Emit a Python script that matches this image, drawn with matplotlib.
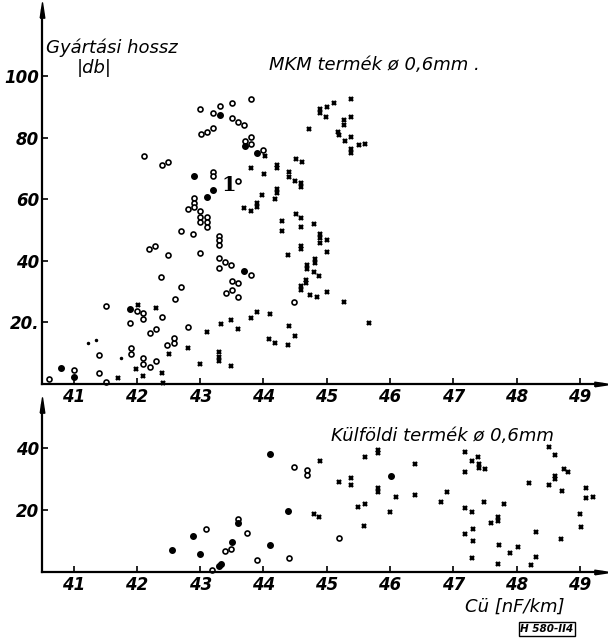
import matplotlib
matplotlib.use("Agg")
import matplotlib.pyplot as plt

plt.rcParams['font.family'] = ['DejaVu Sans']

# top panel: MKM termék (Cü [nF/km], gyártási hossz [db])
top_open_x = [40.61, 41.0, 41.40, 41.40, 41.51, 41.51, 42.0, 42.10, 42.10, 41.89, 42.40, 42.20, 42.30,
              41.91, 41.91, 42.10, 42.10, 42.20, 42.30, 42.48, 42.58, 42.58, 42.80, 42.60, 42.70, 42.38,
              42.19, 42.28, 42.49, 42.69, 42.89, 42.99, 43.30, 43.30, 43.30, 43.29, 43.29, 43.39, 43.49,
              43.50, 43.60, 43.40, 43.50, 43.59, 43.80, 44.48, 42.11, 42.40, 42.49, 42.99, 43.20, 43.31,
              43.50, 43.81, 43.01, 43.10, 43.20, 43.50, 43.60, 43.69, 43.80, 43.71, 43.81, 44.0, 43.21,
              43.21, 43.60, 42.90, 42.90, 42.90, 42.80, 42.99, 42.99, 42.99, 43.10, 43.10, 43.10]
top_open_y = [1.6, 4.5, 9.4, 3.5, 0.5, 25.4, 23.8, 22.9, 21.0, 19.7, 21.9, 16.6, 17.7,
              11.6, 9.7, 8.5, 6.5, 5.4, 7.6, 12.6, 13.4, 15.0, 18.6, 27.6, 31.6, 34.6,
              43.8, 44.9, 41.9, 49.8, 48.7, 42.6, 48.0, 46.7, 45.1, 40.8, 37.8, 39.7, 38.6,
              33.5, 32.9, 29.6, 30.5, 28.3, 35.5, 26.7, 74.0, 71.1, 71.9, 89.3, 88.1, 90.3,
              91.1, 92.4, 81.1, 81.9, 83.0, 86.3, 85.2, 84.1, 80.3, 78.9, 77.9, 76.0, 68.9,
              67.5, 65.9, 60.3, 58.9, 57.6, 56.7, 56.0, 54.3, 52.7, 54.3, 52.7, 51.1]

top_full_x = [40.80, 41.0, 41.89, 43.69, 43.31, 43.71, 43.90, 42.90, 43.21, 43.11]
top_full_y = [5.1, 2.4, 24.4, 36.6, 87.3, 77.1, 74.9, 67.6, 63.0, 60.6]

top_cross_x = [41.70, 42.01, 42.30, 41.99, 42.10, 42.39, 42.41, 42.50, 42.81, 42.99, 43.10, 43.33, 43.49,
               43.60, 43.30, 43.30, 43.30, 43.49, 43.81, 43.90, 44.10, 44.09, 44.19, 44.39, 44.40, 44.50,
               44.39, 44.30, 44.02, 43.81, 44.01, 44.21, 44.21, 44.40, 44.40, 44.51, 44.61, 44.50, 44.60,
               44.60, 43.69, 43.80, 43.89, 43.89, 43.98, 44.21, 44.21, 44.19, 44.51, 44.60, 44.30, 44.80,
               44.60, 44.89, 44.89, 44.89, 45.01, 44.60, 44.60, 45.0, 44.69, 44.69, 44.81, 44.81, 44.80,
               44.88, 44.59, 44.59, 44.68, 44.68, 44.73, 44.84, 45.0, 45.28, 45.66, 44.89, 44.89, 45.0,
               45.11, 45.39, 44.99, 44.72, 45.28, 45.28, 45.39, 45.17, 45.19, 45.29, 45.39, 45.39, 45.39,
               45.51, 45.60]
top_cross_y = [1.9, 25.6, 24.8, 4.8, 2.6, 3.7, 0.4, 9.7, 11.6, 6.5, 17.0, 19.5, 20.8,
               17.8, 10.5, 8.9, 7.6, 5.8, 21.5, 23.5, 22.7, 14.5, 13.2, 12.7, 18.8, 15.6,
               41.9, 49.8, 74.1, 70.0, 68.2, 71.1, 70.0, 68.9, 67.3, 72.9, 72.2, 66.0, 65.1,
               63.9, 57.0, 56.2, 58.9, 57.6, 61.4, 63.2, 61.9, 60.1, 55.2, 53.8, 52.9, 51.9,
               51.1, 48.7, 47.3, 45.9, 46.8, 44.9, 43.8, 43.0, 38.6, 37.2, 40.6, 39.4, 36.3,
               35.1, 31.9, 30.5, 33.8, 32.7, 28.9, 28.1, 30.0, 26.7, 19.7, 89.3, 87.9, 90.0,
               91.1, 92.4, 86.8, 82.7, 85.7, 84.1, 86.6, 81.9, 80.8, 78.9, 80.1, 76.2, 74.9,
               77.5, 77.9]

top_small_x = [41.23, 41.36, 41.75]
top_small_y = [13.4, 14.3, 8.3]

# bottom panel: Külföldi termék
bot_open_x = [43.09, 43.19, 43.39, 43.49, 43.60, 43.74, 43.90, 44.40, 44.49, 44.69, 44.69, 45.19]
bot_open_y = [13.8, 0.6, 6.8, 7.5, 17.0, 12.7, 3.8, 4.4, 33.8, 32.9, 31.3, 11.1]

bot_full_x = [42.56, 42.89, 43.0, 43.30, 43.33, 43.50, 43.60, 44.10, 44.10, 44.39, 46.01]
bot_full_y = [7.1, 11.7, 5.8, 1.9, 2.6, 9.8, 15.7, 38.1, 8.6, 19.8, 31.1]

bot_cross_x = [44.80, 44.88, 44.89, 45.19, 45.39, 45.39, 45.60, 45.49, 45.61, 45.59, 45.81, 45.81,
               45.81, 45.81, 46.0, 46.10, 46.40, 46.39, 46.80, 46.90, 47.18, 47.19, 47.30, 47.39,
               47.41, 47.41, 47.50, 47.19, 47.30, 47.48, 47.19, 47.31, 47.31, 47.30, 47.60, 47.70,
               47.70, 47.80, 47.73, 47.70, 47.90, 48.02, 48.19, 48.31, 48.23, 48.31, 48.51, 48.61,
               48.51, 48.61, 48.61, 48.71, 48.75, 48.82, 48.70, 49.01, 49.02, 49.10, 49.10, 49.21]
bot_cross_y = [18.7, 17.8, 35.8, 28.9, 30.2, 28.1, 37.2, 21.1, 21.9, 14.9, 39.4, 38.3,
               27.0, 25.9, 19.4, 24.1, 34.7, 24.8, 22.5, 25.9, 38.8, 32.4, 35.9, 37.2,
               34.8, 33.6, 33.1, 20.5, 19.5, 22.7, 12.2, 13.8, 10.1, 4.4, 15.7, 17.6,
               16.5, 21.9, 8.7, 2.6, 6.2, 8.0, 28.6, 12.8, 2.3, 4.7, 40.2, 37.7,
               28.1, 31.0, 29.9, 26.2, 33.1, 32.4, 10.6, 18.6, 14.6, 27.0, 23.8, 24.3]

x_ticks = [41, 42, 43, 44, 45, 46, 47, 48, 49]
top_y_ticks = [20, 40, 60, 80, 100]
top_y_labels = ["20.", "40", "60", "80", "100"]
bot_y_ticks = [20, 40]

W, H = 608, 639
fig = plt.figure(figsize=(W / 100, H / 100), dpi=100)
ax1 = fig.add_axes([42 / W, (H - 384) / H, 560 / W, 374 / H])
ax2 = fig.add_axes([42 / W, (H - 572) / H, 560 / W, 167 / H])

tick_font = dict(fontsize=12, fontstyle='italic', fontweight='bold')
text_font = dict(fontsize=13, fontstyle='italic', color='black')

# narrow arrow heads like the hand drawn axes
up_arrow = [(-0.3, -1), (0, 1), (0.3, -1), (-0.3, -1)]
right_arrow = [(-1, -0.3), (1, 0), (-1, 0.3), (-1, -0.3)]


def style_axis(ax, ymax, yticks, ylabels):
    ax.set_xlim(40.5, 49.35)
    ax.set_ylim(0, ymax)
    for s in ['top', 'right']:
        ax.spines[s].set_visible(False)
    for s in ['left', 'bottom']:
        ax.spines[s].set_linewidth(1.6)
    ax.set_xticks(x_ticks)
    ax.set_xticklabels([str(t) for t in x_ticks], **tick_font)
    ax.set_yticks(yticks)
    ax.set_yticklabels(ylabels, **tick_font)
    ax.tick_params(direction='in', length=4, width=1.2, pad=3)
    ax.tick_params(axis='y', pad=2)
    ax.plot(0, 1, marker=up_arrow, color='k', markersize=11, transform=ax.transAxes, clip_on=False)
    ax.plot(1, 0, marker=right_arrow, color='k', markersize=11, transform=ax.transAxes, clip_on=False)


def draw_points(ax, ox, oy, fx, fy, cx, cy):
    ax.plot(ox, oy, 'o', markersize=3.6, markerfacecolor='white', markeredgecolor='black',
            markeredgewidth=1.2, linestyle='none', clip_on=False)
    ax.plot(fx, fy, 'o', markersize=4.0, color='black', linestyle='none', clip_on=False)
    ax.plot(cx, cy, 'x', markersize=3.0, color='black', markeredgewidth=1.7, linestyle='none',
            clip_on=False)


draw_points(ax1, top_open_x, top_open_y, top_full_x, top_full_y, top_cross_x, top_cross_y)
ax1.plot(top_small_x, top_small_y, '.', markersize=3, color='black', linestyle='none')
draw_points(ax2, bot_open_x, bot_open_y, bot_full_x, bot_full_y, bot_cross_x, bot_cross_y)

style_axis(ax1, 121.4, top_y_ticks, top_y_labels)
style_axis(ax2, 53.9, bot_y_ticks, [str(t) for t in bot_y_ticks])

ax1.text(40.56, 107.5, "Gyártási hossz", **text_font)
ax1.text(41.05, 101.0, "|db|", **text_font)
ax1.text(44.08, 102.0, "MKM termék ø 0,6mm .", **text_font)
ax1.text(43.33, 62.5, "1", fontsize=15, family='DejaVu Serif', fontweight='bold', color='black')
ax2.text(45.06, 42.3, "Külföldi termék ø 0,6mm", **text_font)

fig.text(465 / W, 1 - 612 / H, "Cü [nF/km]", **text_font)
fig.text(547 / W, 1 - 629 / H, "H 580-II4", fontsize=7.5, fontstyle='italic', fontweight='bold',
         ha='center', va='center',
         bbox=dict(boxstyle='square,pad=0.15', facecolor='white', edgecolor='black', linewidth=1))

fig.savefig("out.png", dpi=100)
